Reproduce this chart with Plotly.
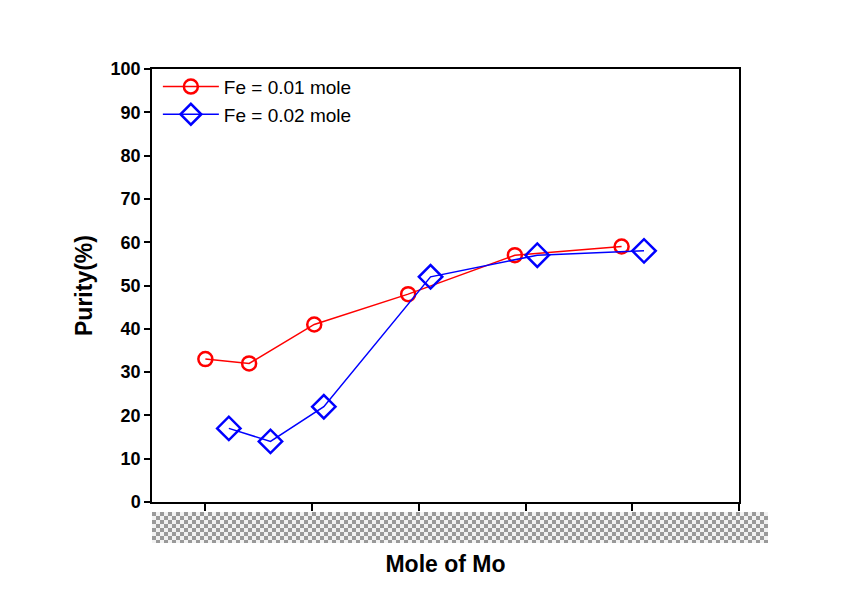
import base64
import plotly.graph_objects as go

# Data
fe01_x = [1.0, 1.41, 2.02, 2.9, 3.9, 4.9]
fe01_y = [33, 32, 41, 48, 57, 59]
fe02_x = [1.22, 1.61, 2.11, 3.11, 4.11, 5.11]
fe02_y = [17, 14, 22, 52, 57, 58]
x_ticks = [1, 2, 3, 4, 5, 6]
y_ticks = [0, 10, 20, 30, 40, 50, 60, 70, 80, 90, 100]

FONT = "Arial, 'Liberation Sans', sans-serif"

fig = go.Figure()
fig.add_trace(go.Scatter(
    x=fe01_x, y=fe01_y, mode="lines+markers", name="Fe = 0.01 mole",
    line=dict(color="#ff0000", width=1.5),
    marker=dict(symbol="circle-open", size=14, color="#ff0000", line=dict(width=2.5, color="#ff0000")),
))
fig.add_trace(go.Scatter(
    x=fe02_x, y=fe02_y, mode="lines+markers", name="Fe = 0.02 mole",
    line=dict(color="#0000ff", width=1.5),
    marker=dict(symbol="diamond-open", size=18, color="#0000ff", line=dict(width=2.5, color="#0000ff")),
))

# Checkerboard strip covering the x tick labels
W, H = 616, 31
svg = (
    f'<svg xmlns="http://www.w3.org/2000/svg" width="{W}" height="{H}" viewBox="0 0 {W} {H}" preserveAspectRatio="none">'
    '<defs><pattern id="p" width="8" height="8" patternUnits="userSpaceOnUse">'
    '<rect width="8" height="8" fill="#f2f2f2"/>'
    '<rect width="4" height="4" fill="#9a9a9a"/>'
    '<rect x="4" y="4" width="4" height="4" fill="#9a9a9a"/>'
    '</pattern></defs>'
    f'<rect width="{W}" height="{H}" fill="url(#p)"/></svg>'
)
src = "data:image/svg+xml;base64," + base64.b64encode(svg.encode()).decode()

plot_w, plot_h = 587, 433
fig.add_layout_image(dict(
    source=src, xref="paper", yref="paper",
    x=0.0, y=-10 / plot_h, sizex=W / plot_w, sizey=H / plot_h,
    xanchor="left", yanchor="top", sizing="stretch", layer="above",
))

fig.update_layout(
    width=858, height=603,
    margin=dict(l=144, r=127, t=61, b=109),
    paper_bgcolor="white", plot_bgcolor="white",
    font=dict(family=FONT, color="black"),
    showlegend=True,
    legend=dict(
        x=0.01, y=1.003, xanchor="left", yanchor="top",
        bgcolor="rgba(0,0,0,0)", font=dict(size=19, family=FONT),
        itemwidth=56, tracegroupgap=0,
    ),
    xaxis=dict(
        range=[0.5, 6.0], tickvals=x_ticks, showticklabels=False,
        ticks="outside", ticklen=7, tickwidth=1.5, tickcolor="black",
        showline=True, linecolor="black", linewidth=1.5, mirror=True,
        showgrid=False, zeroline=False,
        title=dict(text="<b>Mole of Mo</b>", font=dict(size=23, family=FONT), standoff=46),
    ),
    yaxis=dict(
        range=[0, 100], tickvals=y_ticks,
        ticktext=[f"<b>{v}</b>" for v in y_ticks],
        tickfont=dict(size=18, family=FONT),
        ticks="outside", ticklen=6, tickwidth=1.5, tickcolor="black",
        showline=True, linecolor="black", linewidth=1.5, mirror=True,
        showgrid=False, zeroline=False,
        title=dict(text="<b>Purity(%)</b>", font=dict(size=23, family=FONT), standoff=12),
    ),
)

fig.write_html("out.html")
